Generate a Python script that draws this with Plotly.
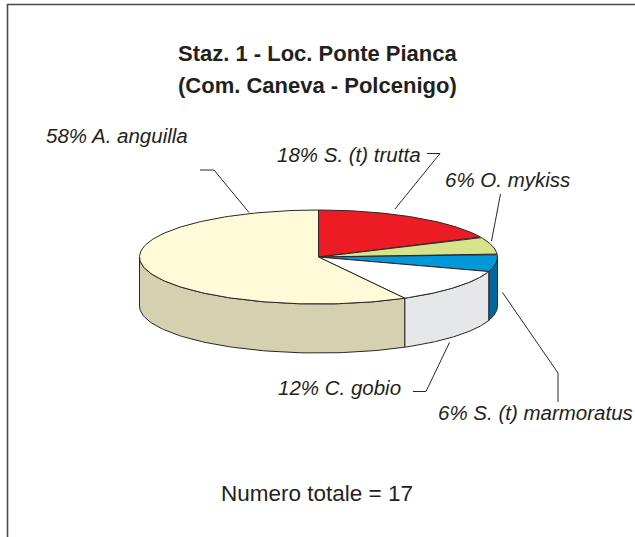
import numpy as np
import plotly.graph_objects as go

# ---------------- data ----------------
species = ["S. (t) trutta", "O. mykiss", "S. (t) marmoratus", "C. gobio", "A. anguilla"]
percent = [18, 6, 6, 12, 58]
numero_totale = 17
title_lines = ["Staz. 1 - Loc. Ponte Pianca", "(Com. Caneva - Polcenigo)"]

# ---------------- styles ----------------
top_colors = ["#ED1C24", "#D6E38B", "#0098D8", "#FFFFFF", "#FFFAD7"]
side_colors = ["#B5151B", "#AEB96C", "#00689C", "#E6E7E8", "#D4D1B0"]
edge_color = "#2a2627"
text_color = "#231F20"

W, H = 635, 537
CX, CY, RX, RY, DEPTH = 318.5, 257.0, 179.0, 47.0, 49.0
START = 90.0  # degrees, slices go clockwise

# label placement (pixel coordinates) and leader lines
label_pos = {
    "A. anguilla": (116.5, 135),
    "S. (t) trutta": (349, 154),
    "O. mykiss": (507.5, 179),
    "C. gobio": (339, 387),
    "S. (t) marmoratus": (535, 412),
}
leaders = {
    "A. anguilla": [(200, 170), (214, 170), (249, 212.5)],
    "S. (t) trutta": [(427, 153.5), (440, 153.5), (395, 209)],
    "O. mykiss": [(500.5, 194), (491.5, 241)],
    "C. gobio": [(413, 391.5), (426, 391.5), (449.5, 342.5)],
    "S. (t) marmoratus": [(502.5, 292.5), (558, 373), (558, 402)],
}


def pt(theta_deg, dz=0.0):
    t = np.radians(theta_deg)
    return CX + RX * np.cos(t), CY - RY * np.sin(t) + dz


fig = go.Figure()

vals = np.array(percent, dtype=float)
frac = vals / vals.sum()
cum = np.concatenate([[0], np.cumsum(frac)])
a_start = START - 360 * cum[:-1]
a_end = START - 360 * cum[1:]

# ---- side walls (front half: theta in [-180, 0]) ----
for i in range(len(species)):
    hi, lo = a_start[i], a_end[i]
    for shift in (-360, 0, 360):
        s_lo = max(lo + shift, -180)
        s_hi = min(hi + shift, 0)
        if s_hi - s_lo <= 0:
            continue
        th = np.linspace(s_lo, s_hi, 80)
        xt, yt = pt(th)
        xb, yb = pt(th[::-1], DEPTH)
        xs = np.concatenate([xt, xb, xt[:1]])
        ys = np.concatenate([yt, yb, yt[:1]])
        fig.add_trace(go.Scatter(x=xs, y=ys, mode="lines", fill="toself",
                                 fillcolor=side_colors[i],
                                 line=dict(color=edge_color, width=1),
                                 hoverinfo="skip", showlegend=False))

# ---- top faces ----
for i in range(len(species)):
    th = np.linspace(a_start[i], a_end[i], 160)
    xa, ya = pt(th)
    xs = np.concatenate([[CX], xa, [CX]])
    ys = np.concatenate([[CY], ya, [CY]])
    fig.add_trace(go.Scatter(x=xs, y=ys, mode="lines", fill="toself",
                             fillcolor=top_colors[i],
                             line=dict(color=edge_color, width=1),
                             hoverinfo="skip", showlegend=False,
                             name=species[i]))

# ---- leader lines ----
for name, pts in leaders.items():
    fig.add_trace(go.Scatter(x=[p[0] for p in pts], y=[p[1] for p in pts],
                             mode="lines", line=dict(color=edge_color, width=1),
                             hoverinfo="skip", showlegend=False))

annotations = []
label_font = dict(family="Liberation Sans, Arial, sans-serif", size=20.5,
                  color=text_color, style="italic")
for name, p in zip(species, percent):
    x, y = label_pos[name]
    annotations.append(dict(x=x, y=y, xref="x", yref="y", text=f"{p}% {name}",
                            showarrow=False, xanchor="center", yanchor="middle",
                            font=label_font))

title_font = dict(family="Liberation Sans, Arial, sans-serif",
                  size=22, color=text_color, weight="bold")
for txt, y in zip(title_lines, [53, 85]):
    annotations.append(dict(x=317.5, y=y, xref="x", yref="y", text=txt,
                            showarrow=False, xanchor="center", yanchor="middle",
                            font=title_font))

annotations.append(dict(x=316.5, y=493, xref="x", yref="y",
                        text=f"Numero totale = {numero_totale}",
                        showarrow=False, xanchor="center", yanchor="middle",
                        font=dict(family="Liberation Sans, Arial, sans-serif",
                                  size=22.5, color=text_color)))

shapes = [dict(type="path", xref="x", yref="y",
               path="M 7.5 537 L 7.5 4.5 L 635 4.5",
               line=dict(color="#4a4a4a", width=1.6))]

fig.update_layout(
    width=W, height=H,
    margin=dict(l=0, r=0, t=0, b=0),
    paper_bgcolor="white", plot_bgcolor="white",
    xaxis=dict(range=[0, W], visible=False, fixedrange=True),
    yaxis=dict(range=[H, 0], visible=False, fixedrange=True),
    annotations=annotations,
    shapes=shapes,
)

fig.write_html("out.html", config={"displayModeBar": False},
               post_script="document.body.style.margin='0px';document.body.style.overflow='hidden';")
